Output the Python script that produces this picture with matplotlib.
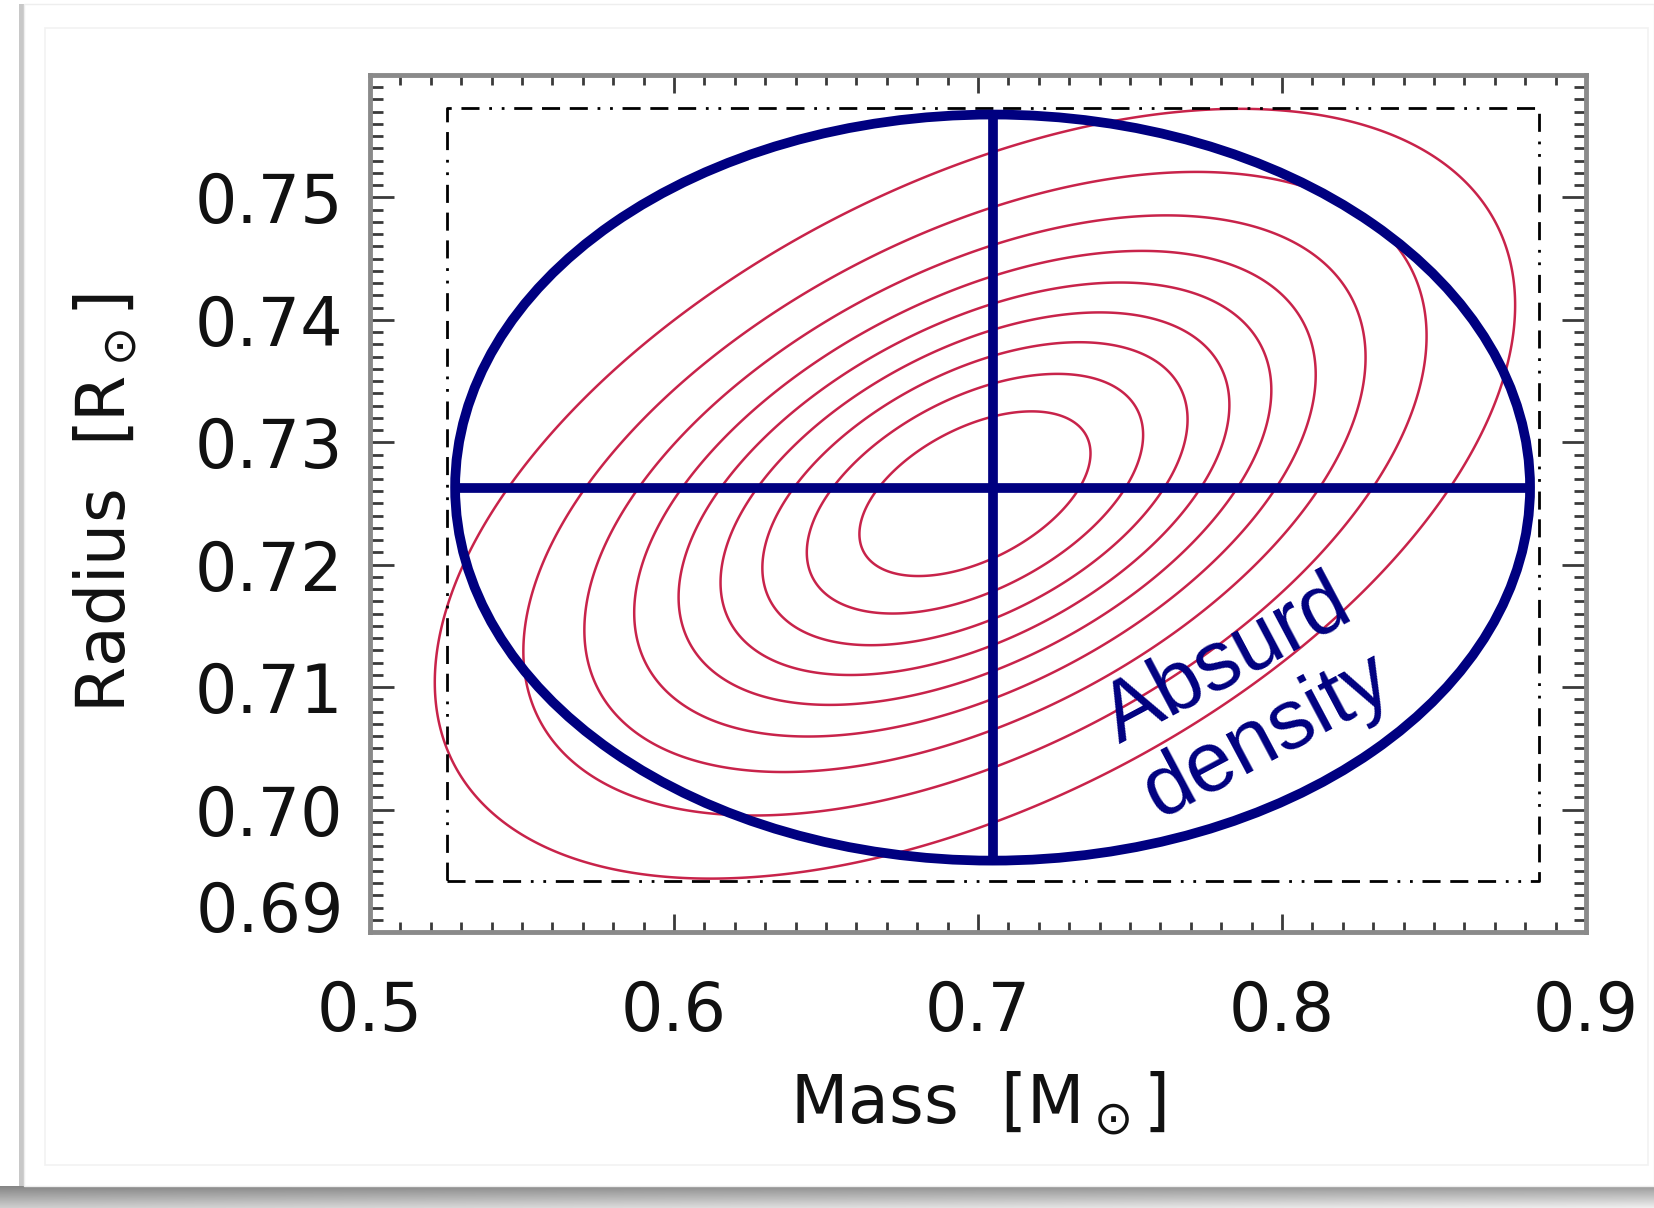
import numpy as np
import matplotlib.pyplot as plt
from matplotlib.patches import Ellipse, Rectangle
from matplotlib.ticker import MultipleLocator

plt.rcParams['lines.scale_dashes'] = False
plt.rcParams['mathtext.fontset'] = 'dejavusans'
plt.rcParams['font.family'] = 'DejaVu Sans'

# axes ranges and ticks
mass_lim = [0.5, 0.9]
radius_lim = [0.69, 0.76]
mass_ticks = [0.5, 0.6, 0.7, 0.8, 0.9]
mass_ticklabels = ['0.5', '0.6', '0.7', '0.8', '0.9']
radius_ticks = [0.69, 0.70, 0.71, 0.72, 0.73, 0.74, 0.75]
radius_ticklabels = ['0.69', '0.70', '0.71', '0.72', '0.73', '0.74', '0.75']

# likelihood contours: correlated gaussian in mass / radius
gauss_center = [0.6990, 0.7258]
gauss_sigma = [0.0828, 0.01465]
gauss_corr = 0.49
contour_levels = [0.1, 0.2, 0.3, 0.4, 0.5, 0.6, 0.7, 0.8, 0.9]

# uncorrelated error ellipse (navy) with its cross
ell_center = [0.7048, 0.7263]
ell_halfwidth = 0.1768
ell_halfheight = 0.03047

# dash-dot box
box_mass = [0.5252, 0.8844]
box_radius = [0.6942, 0.7573]

W, H = 1654, 1208
fig = plt.figure(figsize=(W / 100, H / 100), dpi=100)
fig.patch.set_facecolor('white')

# card background with a soft shadow
bg = fig.add_axes([0, 0, 1, 1], zorder=-5)
bg.axis('off')
shade = np.linspace(0.55, 0.85, 30)[:, None] * np.ones((1, 200))
shade = shade * np.linspace(0.95, 1.1, 200)[None, :]
bg.imshow(np.clip(shade, 0, 1), cmap='gray', vmin=0, vmax=1, aspect='auto',
          extent=[0, W, H, 1186], interpolation='bilinear')
bg.add_patch(Rectangle((19, 4), 5, 1182, color='#c8c8c8', lw=0))
bg.add_patch(Rectangle((24, 4), W - 24, 1182, facecolor='white',
                       edgecolor='#eeeeee', lw=1))
bg.add_patch(Rectangle((45, 28), 1603, 1137, facecolor='none',
                       edgecolor='#f2f2f2', lw=1.2))
bg.set_xlim(0, W)
bg.set_ylim(H, 0)

ax = fig.add_axes([370 / W, 1 - 932 / H, 1216 / W, 857 / H])
ax.set_facecolor('white')

# gaussian contours
gx = np.linspace(mass_lim[0], mass_lim[1], 600)
gy = np.linspace(radius_lim[0], radius_lim[1], 600)
MX, RY = np.meshgrid(gx, gy)
u = (MX - gauss_center[0]) / gauss_sigma[0]
v = (RY - gauss_center[1]) / gauss_sigma[1]
q = (u ** 2 - 2 * gauss_corr * u * v + v ** 2) / (1 - gauss_corr ** 2)
Z = np.exp(-0.5 * q)
ax.contour(MX, RY, Z, levels=contour_levels, colors='#c8234a', linewidths=1.8)

# box
bx = [box_mass[0], box_mass[1], box_mass[1], box_mass[0], box_mass[0]]
by = [box_radius[0], box_radius[0], box_radius[1], box_radius[1], box_radius[0]]
ax.plot(bx, by, color='black', lw=2.0,
        linestyle=(0, (13, 7, 13, 7, 13, 7, 2, 7, 2, 7)))

# navy ellipse and cross
navy = '#000080'
ax.add_patch(Ellipse((ell_center[0], ell_center[1]), 2 * ell_halfwidth,
                     2 * ell_halfheight, fill=False, edgecolor=navy, lw=7,
                     zorder=4))
ax.plot([ell_center[0], ell_center[0]],
        [ell_center[1] - ell_halfheight, ell_center[1] + ell_halfheight],
        color=navy, lw=7, zorder=4, solid_capstyle='butt')
ax.plot([ell_center[0] - ell_halfwidth, ell_center[0] + ell_halfwidth],
        [ell_center[1], ell_center[1]],
        color=navy, lw=7, zorder=4, solid_capstyle='butt')

ax.text(0.7885, 0.7090, 'Absurd\ndensity', rotation=28, rotation_mode='anchor',
        ha='center', va='center', multialignment='center', color=navy,
        fontsize=61, family='Liberation Sans', linespacing=1.08, zorder=5)

ax.set_xlim(mass_lim)
ax.set_ylim(radius_lim)
ax.set_xticks(mass_ticks)
ax.set_xticklabels(mass_ticklabels)
ax.set_yticks(radius_ticks)
ax.set_yticklabels(radius_ticklabels)
ax.xaxis.set_minor_locator(MultipleLocator(0.01))
ax.yaxis.set_minor_locator(MultipleLocator(0.001))

for s in ax.spines.values():
    s.set_color('#8a8a8a')
    s.set_linewidth(3.5)

ax.tick_params(which='both', direction='in', top=True, right=True,
               color='#3a3a3a', width=2, labelsize=48, labelcolor='#111111')
ax.tick_params(axis='x', which='major', length=13, pad=34)
ax.tick_params(axis='x', which='minor', length=7)
ax.tick_params(axis='y', which='major', length=17, pad=19)
ax.tick_params(axis='y', which='minor', length=9)

ax.get_yticklabels()[0].set_verticalalignment('baseline')

ax.set_xlabel(r'Mass  [M$_\odot$]', fontsize=48, labelpad=18, color='#111111')
ax.set_ylabel(r'Radius  [R$_\odot$]', fontsize=48, labelpad=40, color='#111111')

fig.savefig('out.png', dpi=100)
